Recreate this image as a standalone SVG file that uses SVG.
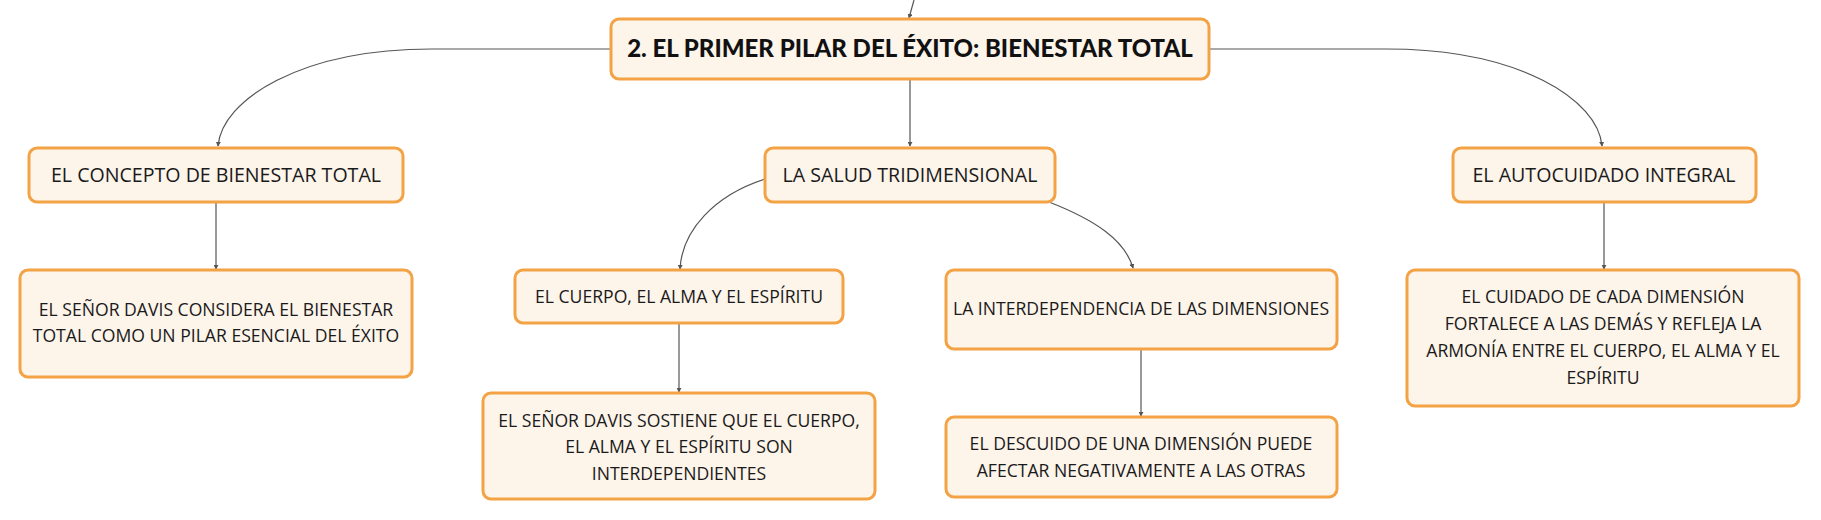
<svg xmlns="http://www.w3.org/2000/svg" width="1821" height="520" viewBox="0 0 1821 520">
<defs>
<style>
.box{fill:#fdf4ea;stroke:#f3a345;stroke-width:3}
.t{font-family:"Open Sans","Liberation Sans",sans-serif;font-size:17.6px;fill:#1a1a1a;text-anchor:middle}
.t2{font-family:"Open Sans","Liberation Sans",sans-serif;font-size:19.6px;fill:#1a1a1a;text-anchor:middle}
.title{font-family:Lato,"Liberation Sans",sans-serif;font-size:24px;font-weight:900;fill:#111;text-anchor:middle}
.c{fill:none;stroke:#555;stroke-width:1.2}
</style>
<marker id="arr" viewBox="0 0 6 6" refX="5" refY="3" markerWidth="5" markerHeight="5" markerUnits="userSpaceOnUse" orient="auto">
<path d="M0,0 L6,3 L0,6 z" fill="#555"/>
</marker>
</defs>
<rect width="1821" height="520" fill="#fff"/>
<g id="connectors">
<path class="c" d="M914,0 L909,18" marker-end="url(#arr)"/>
<path class="c" d="M611,49 L432,49 C300,49 222,100 218,146" marker-end="url(#arr)"/>
<path class="c" d="M1209,49 L1386,49 C1520,49 1598,100 1602,146" marker-end="url(#arr)"/>
<path class="c" d="M910,79 L910,146" marker-end="url(#arr)"/>
<path class="c" d="M216,202 L216,269" marker-end="url(#arr)"/>
<path class="c" d="M765,179 C715,195 682,230 680,269" marker-end="url(#arr)"/>
<path class="c" d="M1049,202 C1095,220 1125,240 1133,268" marker-end="url(#arr)"/>
<path class="c" d="M679,323 L679,392" marker-end="url(#arr)"/>
<path class="c" d="M1141,349 L1141,416" marker-end="url(#arr)"/>
<path class="c" d="M1604,202 L1604,269" marker-end="url(#arr)"/>
</g>
<g id="n-main">
<rect class="box" x="611" y="19" width="598" height="60" rx="8"/>
<text class="title" x="910" y="57">2. EL PRIMER PILAR DEL ÉXITO: BIENESTAR TOTAL</text>
</g>
<g id="n-concepto">
<rect class="box" x="29" y="148" width="374" height="54" rx="8"/>
<text class="t2" x="216" y="182">EL CONCEPTO DE BIENESTAR TOTAL</text>
</g>
<g id="n-salud">
<rect class="box" x="765" y="148" width="290" height="54" rx="8"/>
<text class="t2" x="910" y="182">LA SALUD TRIDIMENSIONAL</text>
</g>
<g id="n-autocuidado">
<rect class="box" x="1453" y="148" width="303" height="54" rx="8"/>
<text class="t2" x="1604" y="182">EL AUTOCUIDADO INTEGRAL</text>
</g>
<g id="n-considera">
<rect class="box" x="20" y="270" width="392" height="107" rx="8"/>
<text class="t" x="216" y="316">EL SEÑOR DAVIS CONSIDERA EL BIENESTAR</text>
<text class="t" x="216" y="342">TOTAL COMO UN PILAR ESENCIAL DEL ÉXITO</text>
</g>
<g id="n-cuerpo">
<rect class="box" x="515" y="270" width="328" height="53" rx="8"/>
<text class="t" x="679" y="303">EL CUERPO, EL ALMA Y EL ESPÍRITU</text>
</g>
<g id="n-sostiene">
<rect class="box" x="483" y="393" width="392" height="106" rx="8"/>
<text class="t" x="679" y="427">EL SEÑOR DAVIS SOSTIENE QUE EL CUERPO,</text>
<text class="t" x="679" y="453">EL ALMA Y EL ESPÍRITU SON</text>
<text class="t" x="679" y="480">INTERDEPENDIENTES</text>
</g>
<g id="n-interdep">
<rect class="box" x="946" y="270" width="391" height="79" rx="8"/>
<text class="t" x="1141" y="315">LA INTERDEPENDENCIA DE LAS DIMENSIONES</text>
</g>
<g id="n-descuido">
<rect class="box" x="946" y="417" width="391" height="80" rx="8"/>
<text class="t" x="1141" y="450">EL DESCUIDO DE UNA DIMENSIÓN PUEDE</text>
<text class="t" x="1141" y="477">AFECTAR NEGATIVAMENTE A LAS OTRAS</text>
</g>
<g id="n-cuidado">
<rect class="box" x="1407" y="270" width="392" height="136" rx="8"/>
<text class="t" x="1603" y="303">EL CUIDADO DE CADA DIMENSIÓN</text>
<text class="t" x="1603" y="330">FORTALECE A LAS DEMÁS Y REFLEJA LA</text>
<text class="t" x="1603" y="357">ARMONÍA ENTRE EL CUERPO, EL ALMA Y EL</text>
<text class="t" x="1603" y="384">ESPÍRITU</text>
</g>
</svg>
